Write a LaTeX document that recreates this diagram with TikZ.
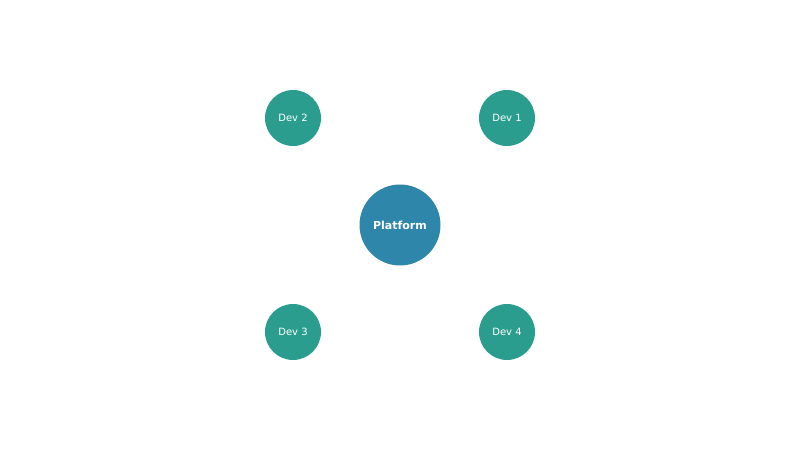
\documentclass[tikz,border=0pt]{standalone}
\usepackage{fontspec}
\setmainfont{DejaVu Sans}
\definecolor{plat}{HTML}{2E86AB}
\definecolor{dev}{HTML}{2A9D8F}
\tikzset{
  platnode/.style={circle, fill=plat, minimum size=81pt, inner sep=0pt, text=white, font=\fontsize{11pt}{13pt}\selectfont\bfseries},
  devnode/.style={circle, fill=dev, minimum size=56pt, inner sep=0pt, text=white, font=\fontsize{10pt}{12pt}\selectfont}
}
\begin{document}
\begin{tikzpicture}[x=1pt,y=1pt]
\useasboundingbox (0,0) rectangle (800,450);
\node[platnode] (p) at (400,225) {Platform};
\node[devnode] (d1) at (507,332) {Dev 1};
\node[devnode] (d2) at (293,332) {Dev 2};
\node[devnode] (d3) at (293,118) {Dev 3};
\node[devnode] (d4) at (507,118) {Dev 4};
\end{tikzpicture}
\end{document}
